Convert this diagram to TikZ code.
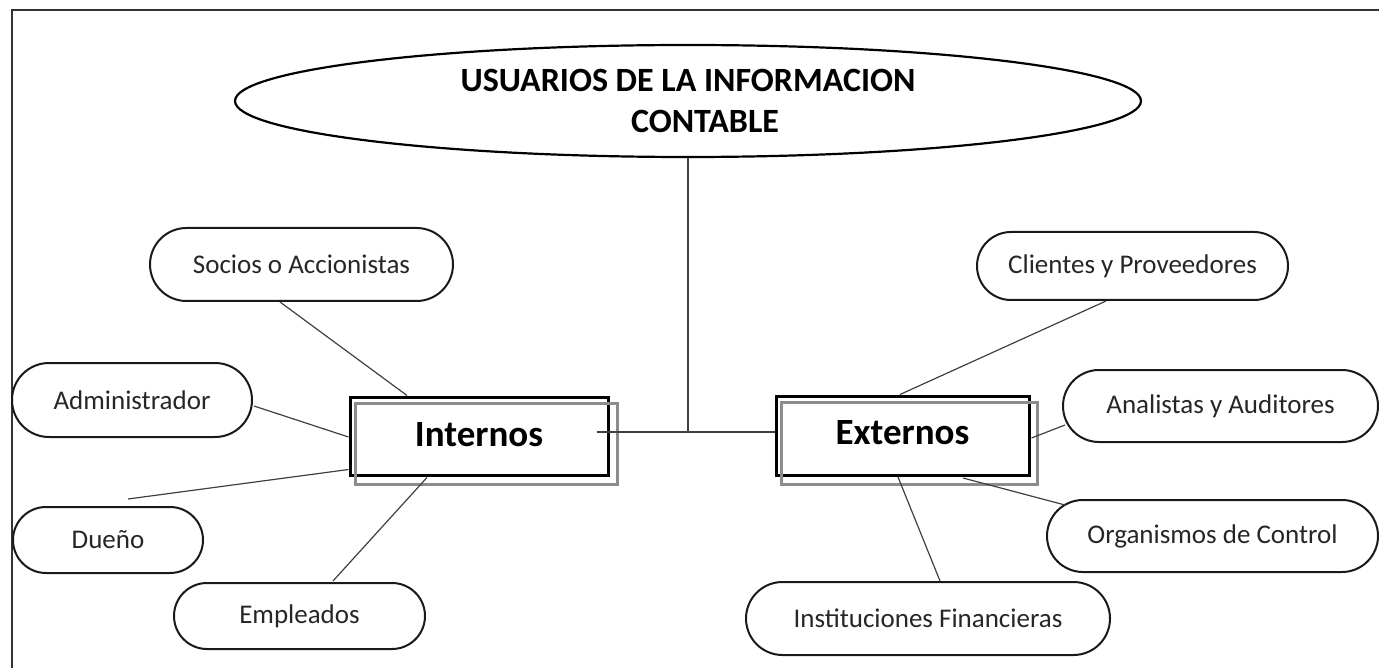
\documentclass[tikz,border=0pt]{standalone}
\usepackage{fontspec}
\setmainfont{Carlito}
\usetikzlibrary{shapes.misc,shapes.geometric,calc}
\tikzset{
  frameline/.style={draw=black!80,line width=2pt},
  pill/.style={rounded rectangle,draw=black!90,line width=2pt,inner sep=0pt,
    font=\fontsize{27}{32}\selectfont,text=black!85},
  bigbox/.style={rectangle,draw=black,line width=3pt,inner sep=0pt,
    font=\bfseries\fontsize{37}{44}\selectfont},
  shadowbox/.style={draw=black!45,line width=2.5pt},
  link/.style={draw=black!75,line width=1.2pt},
}
\begin{document}
\begin{tikzpicture}[x=1pt,y=-1pt]
\useasboundingbox (0,0) rectangle (1379,668);
% frame (only top and left edges visible)
\draw[frameline] (12,668) -- (12,10) -- (1379,10);
% title ellipse
\node[ellipse,draw,line width=2.2pt,inner sep=0pt,minimum width=906pt,minimum height=112pt,
  align=center,font=\bfseries\fontsize{34}{41}\selectfont] (ell) at (688,101)
  {USUARIOS DE LA INFORMACION\\\hspace*{34pt}CONTABLE};
% main boxes
\node[bigbox,minimum width=258pt,minimum height=78pt] (ins) at (479,436) {\raisebox{3pt}{Internos}};
\draw[shadowbox] ($(ins.south west)+(7,8)$) rectangle ($(ins.north east)+(8,8)$);
\node[bigbox,minimum width=253pt,minimum height=79pt] (ext) at (902.5,435.5) {\raisebox{5pt}{Externos}};
\draw[shadowbox] ($(ext.south west)+(7,8)$) rectangle ($(ext.north east)+(7,8)$);
% user nodes
\node[pill,minimum width=303pt,minimum height=73pt] (soc) at (301.5,264.5) {Socios o Accionistas};
\node[pill,minimum width=240pt,minimum height=74pt] (adm) at (132,400) {Administrador};
\node[pill,minimum width=190pt,minimum height=66pt] (due) at (108,540) {Dueño};
\node[pill,minimum width=251pt,minimum height=66pt] (emp) at (299.5,616) {Empleados};
\node[pill,minimum width=311pt,minimum height=68pt] (cli) at (1132.5,266) {Clientes y Proveedores};
\node[pill,minimum width=315pt,minimum height=72pt] (ana) at (1220.5,406) {Analistas y Auditores};
\node[pill,minimum width=331pt,minimum height=72pt] (org) at (1212.5,536) {Organismos de Control};
\node[pill,minimum width=364pt,minimum height=73pt] (fin) at (928,618.5) {Instituciones Financieras};
% connectors
\coordinate (jn) at (688,432);
\coordinate (inl) at ($(ins.east)+(-13,-4)$);
\draw[link] (ell.south) -- (jn);
\draw[link] (inl) -- (ext.west |- jn);
\draw[link] ($(soc.south)+(-21.5,0)$) -- ($(ins.north)+(-72,0)$);
\draw[link] ($(adm.east)+(1,6)$) -- ($(ins.west)+(0,1)$);
\coordinate (duefree) at ($(due.north)+(20,-7)$);
\draw[link] (duefree) -- ($(ins.south west)+(0,-7)$);
\draw[link] ($(emp.north)+(33.5,-1)$) -- ($(ins.south)+(-52,1)$);
\draw[link] ($(cli.south)+(-26.5,0)$) -- ($(ext.north)+(-2.5,0)$);
\draw[link] ($(ana.west)+(3,19)$) -- ($(ext.east)+(1,2.5)$);
\draw[link] ($(org.west)+(19,-31)$) -- ($(ext.south)+(60.5,1.5)$);
\draw[link] ($(fin.north)+(12,0)$) -- ($(ext.south)+(-4.5,0.5)$);
\end{tikzpicture}
\end{document}
